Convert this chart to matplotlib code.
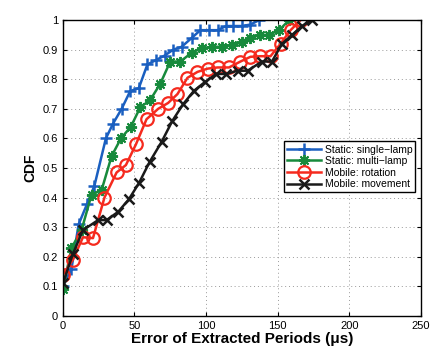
import matplotlib
matplotlib.use("Agg")
import matplotlib.pyplot as plt

# CDF of errors (x in microseconds)
single_x = [0, 6, 11, 17, 22, 30, 35, 41, 47, 53, 59, 65, 71, 77, 83, 90,
            96, 102, 108, 114, 119, 125, 131, 137]
single_y = [0.10, 0.16, 0.31, 0.38, 0.44, 0.60, 0.65, 0.70, 0.76, 0.77, 0.85,
            0.865, 0.88, 0.90, 0.91, 0.94, 0.966, 0.966, 0.966, 0.98, 0.98,
            0.98, 0.985, 1.0]

multi_x = [0, 6, 13, 20, 27, 34, 40.5, 47.5, 54, 61, 68, 75, 82, 90, 97, 104,
           111, 118, 125, 131, 137.5, 144, 151, 158]
multi_y = [0.09, 0.23, 0.29, 0.41, 0.425, 0.54, 0.60, 0.64, 0.705, 0.73,
           0.785, 0.86, 0.86, 0.89, 0.905, 0.91, 0.91, 0.915, 0.925, 0.94,
           0.95, 0.95, 0.966, 1.0]

rot_x = [0, 7, 14, 21, 29, 37.5, 44, 51, 58.4, 66.5, 73.5, 80, 87, 94, 101,
         108, 116, 124, 131, 138, 145, 152, 159, 166]
rot_y = [0.14, 0.19, 0.266, 0.263, 0.40, 0.485, 0.51, 0.58, 0.665, 0.70,
         0.72, 0.75, 0.805, 0.825, 0.836, 0.84, 0.84, 0.86, 0.876, 0.878,
         0.878, 0.92, 0.966, 1.0]

move_x = [0, 7, 14, 24.6, 30.5, 38.6, 46, 53, 60.5, 69, 76.5, 84, 91.5, 99,
          107, 114, 122, 129, 139, 146, 153, 160, 167, 174]
move_y = [0.11, 0.21, 0.29, 0.324, 0.324, 0.352, 0.394, 0.448, 0.52, 0.589,
          0.66, 0.716, 0.761, 0.79, 0.818, 0.818, 0.829, 0.829, 0.86, 0.86,
          0.92, 0.95, 0.98, 1.0]

plt.rcParams['font.family'] = ['Liberation Sans', 'DejaVu Sans']

fig = plt.figure(figsize=(4.43, 3.53), dpi=100)
ax = fig.add_axes([0.142, 0.105, 0.808, 0.838])

# MATLAB-style asterisk marker
asterisk = (8, 2, 0)

ax.plot(single_x, single_y, '-+', color='#1a5fc0', lw=1.8, ms=9, mew=1.8,
        label='Static: single\u2212lamp')
ax.plot(multi_x, multi_y, '-', marker=asterisk, color='#178a3c', lw=1.8,
        ms=8, mew=1.4, label='Static: multi\u2212lamp')
ax.plot(rot_x, rot_y, '-o', color='#f52a1e', lw=1.8, ms=9, mew=1.6,
        mfc='none', label='Mobile: rotation')
ax.plot(move_x, move_y, '-x', color='#1a1a1a', lw=1.8, ms=6.5, mew=1.8,
        label='Mobile: movement')

ax.set_xlim(0, 250)
ax.set_ylim(0, 1)
ax.set_xticks(range(0, 251, 50))
ax.set_yticks([i / 10 for i in range(11)])
ax.set_yticklabels(['0', '0.1', '0.2', '0.3', '0.4', '0.5', '0.6', '0.7',
                    '0.8', '0.9', '1'])
ax.tick_params(direction='in', top=True, right=True, labelsize=8, length=3)
ax.grid(True, linestyle=(0, (1, 3)), color='#999999', lw=0.7)
for s in ax.spines.values():
    s.set_linewidth(1.0)

ax.set_xlabel('Error of Extracted Periods (\u03bcs)', fontsize=11,
              fontweight='bold', labelpad=1)
ax.set_ylabel('CDF', fontsize=10, fontweight='bold', labelpad=4)

leg = ax.legend(loc='upper right', bbox_to_anchor=(0.985, 0.59), fontsize=7.5,
                fancybox=False, framealpha=1, edgecolor='black',
                handlelength=3.2, borderpad=0.3, labelspacing=0.15,
                handletextpad=0.4, borderaxespad=0)
leg.get_frame().set_linewidth(1.0)

fig.savefig('out.png', dpi=100)
